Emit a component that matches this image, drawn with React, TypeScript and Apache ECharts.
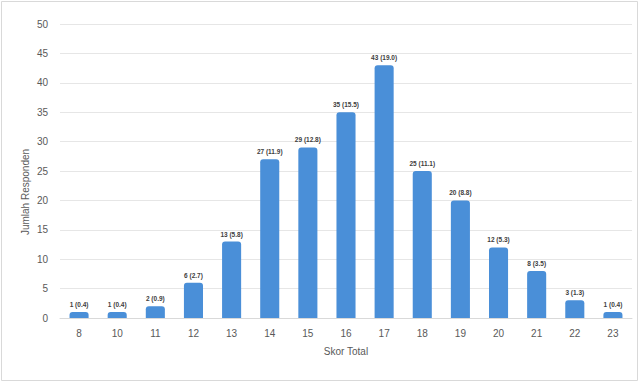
import React, { useEffect, useRef } from "react";
import * as echarts from "echarts";

const categories = ["8", "10", "11", "12", "13", "14", "15", "16", "17", "18", "19", "20", "21", "22", "23"];
const counts = [1, 1, 2, 6, 13, 27, 29, 35, 43, 25, 20, 12, 8, 3, 1];
const percents = ["0.4", "0.4", "0.9", "2.7", "5.8", "11.9", "12.8", "15.5", "19.0", "11.1", "8.8", "5.3", "3.5", "1.3", "0.4"];

export default function App() {
  const ref = useRef<HTMLDivElement>(null);
  useEffect(() => {
    if (!ref.current) return;
    const chart = echarts.init(ref.current, undefined, { renderer: "svg" });
    chart.setOption({
      animation: false,
      backgroundColor: "#ffffff",
      textStyle: { fontFamily: "Liberation Sans, Arial, sans-serif" },
      graphic: [
        {
          type: "rect",
          shape: { x: 1.5, y: 1.5, width: 636, height: 379 },
          style: { fill: "none", stroke: "#d9d9d9", lineWidth: 1 },
        },
        {
          type: "text",
          x: 25,
          y: 192,
          rotation: Math.PI / 2,
          style: {
            text: "Jumlah Responden",
            fill: "#595959",
            fontSize: 10,
            align: "center",
            verticalAlign: "middle",
            fontFamily: "Liberation Sans, Arial, sans-serif",
          },
        },
      ],
      grid: { left: 60, right: 8, top: 24, bottom: 65, containLabel: false },
      xAxis: {
        type: "category",
        data: categories,
        name: "Skor Total",
        nameLocation: "middle",
        nameGap: 28,
        nameTextStyle: { color: "#595959", fontSize: 10 },
        axisLine: { lineStyle: { color: "#d9d9d9" } },
        axisTick: { show: false },
        axisLabel: { color: "#595959", fontSize: 10, margin: 10 },
      },
      yAxis: {
        type: "value",
        min: 0,
        max: 50,
        interval: 5,
        axisLine: { show: false },
        axisTick: { show: false },
        axisLabel: { color: "#595959", fontSize: 10, margin: 12 },
        splitLine: { lineStyle: { color: "#e6e6e6" } },
      },
      series: [
        {
          type: "bar",
          data: counts,
          barWidth: "50%",
          itemStyle: { color: "#4a8fd8", borderRadius: [3, 3, 0, 0] },
          label: {
            show: true,
            position: "top",
            distance: 4,
            fontSize: 6.5,
            fontWeight: "bold",
            color: "#404040",
            formatter: (p: any) => `${counts[p.dataIndex]} (${percents[p.dataIndex]})`,
          },
        },
      ],
    });
    return () => chart.dispose();
  }, []);
  return (
    <div
      ref={ref}
      style={{ position: "fixed", left: 0, top: 0, width: 640, height: 383 }}
    />
  );
}
